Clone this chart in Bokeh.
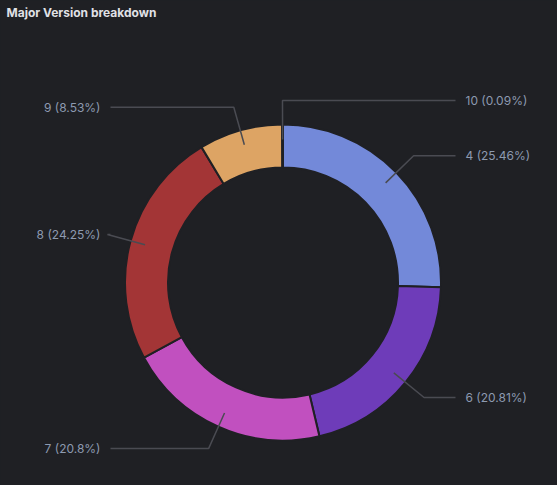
import numpy as np
from bokeh.plotting import figure
from bokeh.models import Range1d
from bokeh.core.properties import value
from bokeh.embed import file_html
from bokeh.resources import INLINE

# ---- data ----
categories = ["4", "6", "7", "8", "9", "10"]
percents = [25.46, 20.81, 20.8, 24.25, 8.53, 0.09]
colors = ["#7389d9", "#6e3cb9", "#c150bf", "#a33536", "#dda464", "#3a3b40"]
title_text = "Major Version breakdown"

BG = "#1f2024"
W, H = 557, 485
# page coordinates: page x = data x ; data y = H - page y
PAGE_H = H

p = figure(width=W, height=H, output_backend="svg", toolbar_location=None,
           x_range=Range1d(0, W), y_range=Range1d(0, H),
           min_border=0)
p.axis.visible = False
p.grid.visible = False
p.outline_line_color = None
p.background_fill_color = BG
p.border_fill_color = BG

cx, cy_page = 282.5, 282.0
cy = PAGE_H - cy_page
R_OUT, R_IN = 158, 115

vals = np.array(percents, dtype=float)
frac = vals / vals.sum()
cum_end = np.cumsum(frac)
cum_start = cum_end - frac
start_angles = np.radians(90 - 360 * cum_end)
end_angles = np.radians(90 - 360 * cum_start)

p.annular_wedge(x=cx, y=cy, inner_radius=R_IN, outer_radius=R_OUT,
                inner_radius_units="screen", outer_radius_units="screen",
                start_angle=start_angles, end_angle=end_angles,
                fill_color=colors, line_color=BG, line_width=2)

# leader lines + labels
line_col = "#4a4b52"
text_col = "#8d9ab0"
mid = np.radians(90 - 360 * (cum_start + frac / 2))
r1, r2 = 143, 182
for cat, pct, a in zip(categories, percents, mid):
    x1, y1 = cx + r1 * np.cos(a), cy + r1 * np.sin(a)
    x2, y2 = cx + r2 * np.cos(a), cy + r2 * np.sin(a)
    right = np.cos(a) >= -0.01
    x3 = 455 if right else 110
    p.line([x1, x2, x3], [y1, y2, y2], line_color=line_col, line_width=1.5)
    lbl = f"{cat} ({pct}%)"
    p.text(x=[x3 + 10 if right else x3 - 10], y=[y2], text=[lbl],
           text_align="left" if right else "right", text_baseline="middle",
           text_font=value("Inter"), text_font_size="12px", text_color=text_col)

p.text(x=[6], y=[PAGE_H - 12], text=[title_text], text_align="left",
       text_baseline="middle", text_font=value("Inter"), text_font_size="12px",
       text_font_style="bold", text_color="#e0e1e6")

html = file_html(p, INLINE)
html = html.replace("<head>", "<head><style>body{background:%s;}</style>" % BG, 1)
open("out.html", "w").write(html)
